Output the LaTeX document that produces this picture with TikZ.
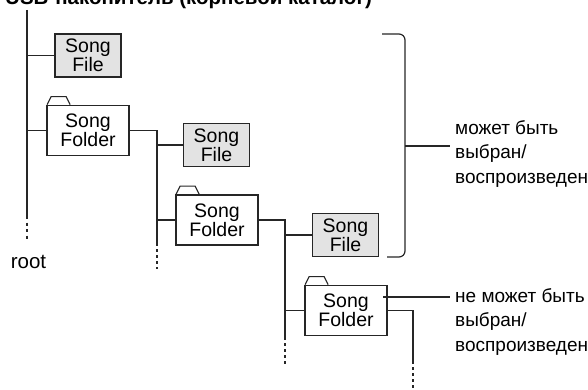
\documentclass[tikz,border=0pt]{standalone}
\usepackage{fontspec}
\setmainfont{Liberation Sans}
\begin{document}
\begin{tikzpicture}[x=1pt,y=-1pt,
  ink/.style={draw=black!85},
  conn/.style={ink, line width=1.2pt},
  rootline/.style={ink, line width=2.6pt},
  dotted line/.style={ink, line width=1.2pt, dash pattern=on 3pt off 3pt},
  boxtext/.style={font=\fontsize{19.5}{19}\selectfont, align=center, inner sep=0pt},
  filebox/.style={boxtext, ink, line width=1.7pt, fill=black!11, minimum width=66pt, minimum height=43pt},
  folderbox/.style={boxtext, ink, line width=1.7pt, fill=white, minimum width=82pt, minimum height=50pt},
  label/.style={font=\fontsize{19}{24.5}\selectfont, align=left, inner sep=0pt, anchor=west},
  tab/.style={ink, line width=1.1pt}
]
\useasboundingbox (0,0) rectangle (588,390);

% title (cut by the top edge)
\node[font=\fontsize{20.5}{22}\selectfont\bfseries, anchor=base west, inner sep=0pt] (title) at (5,5) {USB-накопитель (корневой каталог)};

% root
\coordinate (rootTop) at (27,10);
\coordinate (rootEnd) at (27,216);
\coordinate (rootDot) at (27,242);
\draw[rootline] (rootTop) -- (rootEnd);
\draw[rootline, dash pattern=on 3pt off 3.5pt] (rootEnd) -- (rootDot);
\node[font=\fontsize{20.5}{22}\selectfont, inner sep=0pt] (root) at (28.5,262) {root};

% folder tabs
\newcommand{\foldertab}[1]{%
  \draw[tab] ([xshift=1pt]#1.north west) -- ++(4,-8) -- ++(15,0) -- ++(4,8);}

% boxes
\node[filebox] (file1) at (88,55.5) {Song\\File};
\node[folderbox] (folder1) at (88,130.5) {Song\\Folder};
\node[filebox] (file2) at (216.5,145) {Song\\File};
\node[folderbox] (folder2) at (217,220) {Song\\Folder};
\node[filebox] (file3) at (345.5,235) {Song\\File};
\node[folderbox] (folder3) at (346,310.5) {Song\\Folder};
\foldertab{folder1}
\foldertab{folder2}
\foldertab{folder3}

% root connections
\draw[conn] (rootTop |- file1.west) -- (file1.west);
\draw[conn] (rootTop |- folder1.west) -- (folder1.west);

% level 1
\coordinate (t1) at (157,130.5);
\coordinate (t1e) at (157,243);
\coordinate (t1d) at (157,269);
\draw[conn] (folder1.east) -- (t1) -- (t1e);
\draw[dotted line] (t1e) -- (t1d);
\draw[conn] (t1 |- file2.west) -- (file2.west);
\draw[conn] (t1 |- folder2.west) -- (folder2.west);

% level 2
\coordinate (t2) at (285,220);
\coordinate (t2e) at (285,337);
\coordinate (t2d) at (285,364);
\draw[conn] (folder2.east) -- (t2) -- (t2e);
\draw[dotted line] (t2e) -- (t2d);
\draw[conn] (t2 |- file3.west) -- (file3.west);
\draw[conn] (t2 |- folder3.west) -- (folder3.west);

% level 3
\coordinate (t3) at (413,310.5);
\coordinate (t3e) at (413,361);
\coordinate (t3d) at (413,390);
\draw[conn] (folder3.east) -- (t3) -- (t3e);
\draw[dotted line] (t3e) -- (t3d);

% bracket and label 1
\coordinate (bA) at (382,34);
\coordinate (bB) at (405,34);
\coordinate (bC) at (405,257);
\coordinate (bD) at (387,257);
\coordinate (bM) at (405,146);
\draw[conn, rounded corners=6pt] (bA) -- (bB) -- (bC) -- (bD);
\node[label] (lab1) at (455,154) {может быть\\выбран/\\воспроизведен};
\coordinate (bT) at (450,146);
\draw[conn] (bM) -- (bT);

% label 2
\node[label] (lab2) at (455,322) {не может быть\\выбран/\\воспроизведен};
\coordinate (l2s) at (383,297);
\coordinate (l2e) at (450,297);
\draw[conn] (l2s) -- (l2e);
\end{tikzpicture}
\end{document}
